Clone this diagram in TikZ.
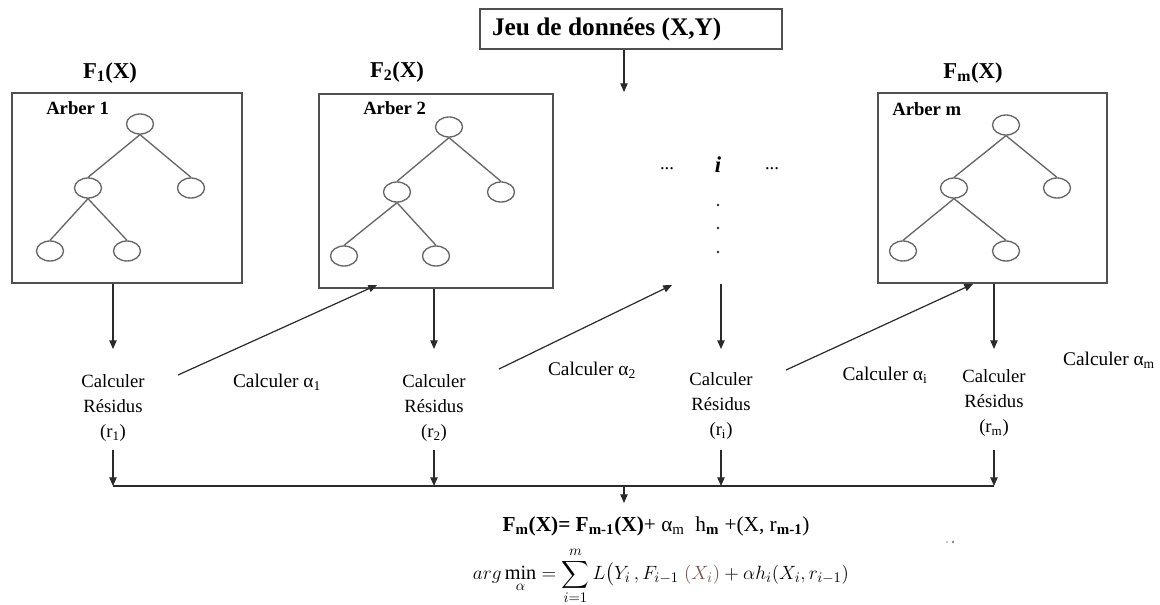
\documentclass[tikz,border=0pt]{standalone}
\usepackage{amsmath}
\usepackage{fontspec}
\setmainfont{Liberation Serif}
\usetikzlibrary{arrows.meta,shapes.geometric}
\definecolor{boxgray}{HTML}{505050}
\definecolor{treegray}{HTML}{666666}
\definecolor{arrgray}{HTML}{2A2A2A}
\definecolor{argbrown}{HTML}{7A5548}
\begin{document}
\begin{tikzpicture}[x=0.75pt,y=-0.75pt,
  treebox/.style={draw=boxgray, line width=1.3pt, inner sep=0pt},
  leaf/.style={ellipse, draw=treegray, line width=1pt, minimum width=20.25pt, minimum height=15pt, inner sep=0pt},
  edge/.style={draw=treegray, line width=1pt},
  arr/.style={draw=arrgray, line width=0.9pt, -{Triangle[length=6.5pt,width=5.5pt]}},
  plain/.style={draw=arrgray, line width=0.9pt},
  ftitle/.style={font=\bfseries\fontsize{17pt}{19pt}\selectfont, inner sep=0pt},
  arber/.style={font=\bfseries\fontsize{14pt}{16pt}\selectfont, inner sep=0pt, anchor=west},
  calc/.style={font=\fontsize{14pt}{18.75pt}\selectfont, align=center, inner sep=0pt},
  alab/.style={font=\fontsize{14.5pt}{16pt}\selectfont, inner sep=0pt},
  dotsty/.style={font=\fontsize{14pt}{16pt}\selectfont, inner sep=0pt}
]
\useasboundingbox (0,0) rectangle (1160,604);

% top data box
\node[draw=boxgray, line width=1.3pt, minimum width=226.5pt, minimum height=30pt,
      text width=208.5pt, align=flush left, inner xsep=9pt,
      font=\bfseries\fontsize{19pt}{22pt}\selectfont] (data) at (631,29) {Jeu de données (X,Y)};
\coordinate (dataArr) at (624,92);
\draw[arr] (data.south -| dataArr) -- (dataArr);

% ---------- tree 1
\node[treebox, minimum width=172.5pt, minimum height=142.5pt] (box1) at (127,188) {};
\node[ftitle] (t1) at (110,73) {F\textsubscript{1}(X)};
\node[arber] (a1) at (46,108) {Arber 1};
\node[leaf] (r1) at (140,124) {};
\node[leaf] (ml1) at (88,188) {};
\node[leaf] (mr1) at (191,188) {};
\node[leaf] (bl1) at (50,251) {};
\node[leaf] (br1) at (127,251) {};
\draw[edge] (r1.south) -- (ml1.north);
\draw[edge] (r1.south) -- (mr1.north);
\draw[edge] (ml1.south) -- (bl1.north);
\draw[edge] (ml1.south) -- (br1.north);

% ---------- tree 2
\node[treebox, minimum width=175.5pt, minimum height=145.5pt] (box2) at (436,191) {};
\node[ftitle] (t2) at (397,72) {F\textsubscript{2}(X)};
\node[arber] (a2) at (363,108) {Arber 2};
\node[leaf] (r2) at (449,127) {};
\node[leaf] (ml2) at (397,192) {};
\node[leaf] (mr2) at (501,192) {};
\node[leaf] (bl2) at (344,256) {};
\node[leaf] (br2) at (436,256) {};
\draw[edge] (r2.south) -- (ml2.north);
\draw[edge] (r2.south) -- (mr2.north);
\draw[edge] (ml2.south) -- (bl2.north);
\draw[edge] (ml2.south) -- (br2.north);

% ---------- tree m
\node[treebox, minimum width=171.75pt, minimum height=142.5pt] (boxm) at (992.5,188) {};
\node[ftitle] (tm) at (973,73) {F\textsubscript{m}(X)};
\node[arber] (am) at (892,109) {Arber m};
\node[leaf] (rm) at (1006,125) {};
\node[leaf] (mlm) at (954,188) {};
\node[leaf] (mrm) at (1057,188) {};
\node[leaf] (blm) at (903,251) {};
\node[leaf] (brm) at (1006,251) {};
\draw[edge] (rm.south) -- (mlm.north);
\draw[edge] (rm.south) -- (mrm.north);
\draw[edge] (mlm.south) -- (blm.north);
\draw[edge] (mlm.south) -- (brm.north);

% ---------- middle dots
\node[dotsty] (dl) at (667,169) {...};
\node[font=\bfseries\fontsize{17pt}{19pt}\selectfont, inner sep=0pt] (ii) at (718,165) {\textit{i}};
\node[dotsty] (dr) at (772,169) {...};
\fill[arrgray] (718,205) circle (1.1pt);
\fill[arrgray] (718,228) circle (1.1pt);
\fill[arrgray] (718,252) circle (1.1pt);

% ---------- residual nodes
\node[calc] (c1) at (113,408) {Calculer\\Résidus\\(r\textsubscript{1})};
\node[calc] (c2) at (434,408) {Calculer\\Résidus\\(r\textsubscript{2})};
\node[calc] (ci) at (721,406) {Calculer\\Résidus\\(r\textsubscript{i})};
\node[calc] (cm) at (994,403) {Calculer\\Résidus\\(r\textsubscript{m})};

\coordinate (lvlTop) at (0,284);
\coordinate (lvlA) at (0,349);
\coordinate (lvlB) at (0,450);
\coordinate (bus) at (0,486);

\draw[arr] (c1 |- box1.south) -- (c1 |- lvlA);
\draw[arr] (c2 |- box2.south) -- (c2 |- lvlA);
\draw[arr] (ci |- lvlTop) -- (ci |- lvlA);
\draw[arr] (cm |- boxm.south) -- (cm |- lvlA);

\draw[arr] (c1 |- lvlB) -- (c1 |- bus);
\draw[arr] (c2 |- lvlB) -- (c2 |- bus);
\draw[arr] (ci |- lvlB) -- (ci |- bus);
\draw[arr] (cm |- lvlB) -- (cm |- bus);
\draw[plain] (c1 |- bus) -- (cm |- bus);

% ---------- alpha labels
\node[alab] (al1) at (277,382) {Calculer α\textsubscript{1}};
\node[alab] (al2) at (592,370) {Calculer α\textsubscript{2}};
\node[alab] (ali) at (885,375) {Calculer α\textsubscript{i}};
\node[alab] (alm) at (1109,360) {Calculer α\textsubscript{m}};

% ---------- diagonal arrows
\coordinate (d1s) at (178,375);
\coordinate (d1e) at (377,285);
\coordinate (d2s) at (499,369);
\coordinate (d2e) at (672,285);
\coordinate (d3s) at (786,370);
\coordinate (d3e) at (973,284);
\draw[arr] (d1s) -- (d1e);
\draw[arr] (d2s) -- (d2e);
\draw[arr] (d3s) -- (d3e);

% ---------- formulas
\coordinate (busmid) at (624,486);
\coordinate (fend) at (624,503);
\draw[arr] (busmid) -- (fend);
\node[inner sep=0pt, font=\fontsize{16pt}{19pt}\selectfont] (f1) at (656,526)
  {\textbf{F\textsubscript{m}(X)= F\textsubscript{m-1}(X)}+ α\textsubscript{m}\ \ h\textsubscript{\textbf{m}} +(X, r\textsubscript{\textbf{m-1}})};
\node[inner sep=0pt, font=\fontsize{15.2pt}{17pt}\selectfont] (f2) at (661,576)
  {$\displaystyle arg\min_{\alpha} = \sum_{i=1}^{m} L\bigl(Y_i\,, F_{i-1}\;{\color{argbrown}(X_i)} + \alpha h_i(X_i, r_{i-1})$};

% stray marks
\fill[gray!60] (947,542) circle (0.9pt);
\fill[gray] (953,542) circle (1pt);
\end{tikzpicture}
\end{document}
